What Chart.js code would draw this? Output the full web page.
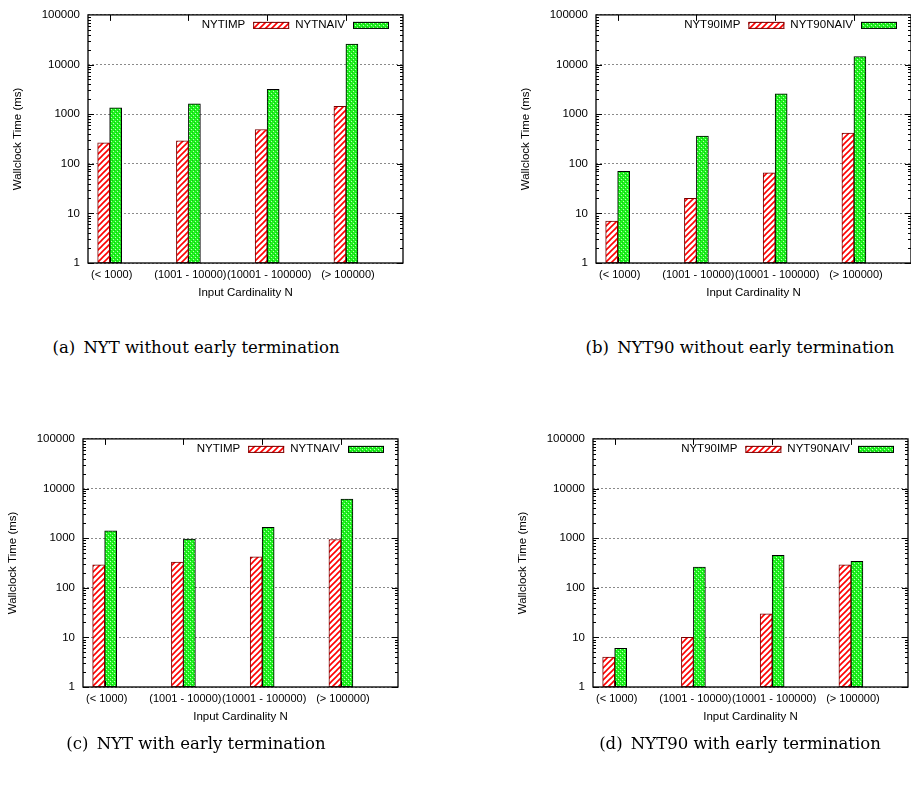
<!DOCTYPE html>
<html>
<head>
<meta charset="utf-8">
<script src="https://cdn.jsdelivr.net/npm/chart.js@4.4.1/dist/chart.umd.min.js"></script>
<style>
  html, body { margin: 0; padding: 0; background: #fff; }
  body { width: 911px; height: 791px; position: relative; overflow: hidden; }
  canvas { position: absolute; }
  .cap { position: absolute; font-family: "DejaVu Serif", serif; font-size: 16.5px; line-height: 20px;
         white-space: nowrap; transform: translateX(-50%); color: #000; }
</style>
</head>
<body>
<canvas id="c0" width="453" height="320" style="left:0px;top:0px"></canvas>
<canvas id="c1" width="453" height="320" style="left:508px;top:0px"></canvas>
<canvas id="c2" width="453" height="320" style="left:-5px;top:424px"></canvas>
<canvas id="c3" width="453" height="320" style="left:505px;top:424px"></canvas>
<div class="cap" id="cap0" style="left:196px;top:338px"></div>
<div class="cap" id="cap1" style="left:740px;top:338px"></div>
<div class="cap" id="cap2" style="left:196px;top:734px"></div>
<div class="cap" id="cap3" style="left:740px;top:734px"></div>
<script>
// ---------------- data ----------------
const categories = ['(< 1000)', '(1001 - 10000)', '(10001 - 100000)', '(> 100000)'];
const yTicks = [1, 10, 100, 1000, 10000, 100000];
const xTitle = 'Input Cardinality N';
const yTitle = 'Wallclock Time (ms)';

const nytImpNoET    = [265, 290, 490, 1440];
const nytNaivNoET   = [1340, 1610, 3160, 25800];
const nyt90ImpNoET  = [7, 20, 66, 414];
const nyt90NaivNoET = [70, 360, 2560, 14400];
const nytImpET      = [290, 330, 420, 940];
const nytNaivET     = [1400, 960, 1660, 6100];
const nyt90ImpET    = [4, 10, 30, 290];
const nyt90NaivET   = [6, 260, 450, 340];

const seriesLabelsNYT = ['NYTIMP', 'NYTNAIV'];
const seriesLabelsNYT90 = ['NYT90IMP', 'NYT90NAIV'];
const captions = [
  '(a)\u2002NYT without early termination',
  '(b)\u2002NYT90 without early termination',
  '(c)\u2002NYT with early termination',
  '(d)\u2002NYT90 with early termination'
];

// ---------------- patterns ----------------
function hatchPattern() {
  const c = document.createElement('canvas'); c.width = 6; c.height = 6;
  const g = c.getContext('2d');
  g.fillStyle = '#ffffff'; g.fillRect(0, 0, 6, 6);
  g.strokeStyle = '#ff0000'; g.lineWidth = 1.6;
  g.beginPath();
  g.moveTo(-1, 7); g.lineTo(7, -1);
  g.moveTo(-1, 1); g.lineTo(1, -1);
  g.moveTo(5, 7); g.lineTo(7, 5);
  g.stroke();
  return g.createPattern(c, 'repeat');
}
function crossPattern() {
  const c = document.createElement('canvas'); c.width = 4; c.height = 4;
  const g = c.getContext('2d');
  g.fillStyle = '#1ef51e'; g.fillRect(0, 0, 4, 4);
  g.fillStyle = '#18b818';
  g.fillRect(0, 0, 1, 1); g.fillRect(2, 2, 1, 1);
  g.fillStyle = '#b8ffb8';
  g.fillRect(1, 3, 1, 1); g.fillRect(3, 1, 1, 1);
  return g.createPattern(c, 'repeat');
}
const RED_FILL = hatchPattern();
const GREEN_FILL = crossPattern();
const RED_BORDER = '#7a0000';
const GREEN_BORDER = '#000000';

const FONT = { family: '"Liberation Sans", Arial, sans-serif', size: 11.5 };
const XTICK_FONT = { family: '"Liberation Sans", Arial, sans-serif', size: 11 };

// ---------------- frame / ticks / key plugin ----------------
const framePlugin = {
  id: 'gnuframe',
  afterDatasetsDraw(chart) {
    const { ctx, chartArea: a, scales } = chart;
    const xs = scales.x, ys = scales.y;
    ctx.save();
    ctx.strokeStyle = '#000';
    ctx.lineWidth = 1;
    ctx.beginPath();
    for (let k = 0; k < yTicks.length - 1; k++) {
      for (let m = 1; m <= 9; m++) {
        const v = yTicks[k] * m;
        const py = Math.round(ys.getPixelForValue(v)) + 0.5;
        const len = m === 1 ? 6 : 3;
        ctx.moveTo(a.left, py); ctx.lineTo(a.left + len, py);
        ctx.moveTo(a.right, py); ctx.lineTo(a.right - len, py);
      }
    }
    categories.forEach((c, i) => {
      const px = Math.round(xs.getPixelForValue(i)) + 0.5;
      ctx.moveTo(px, a.top); ctx.lineTo(px, a.top + 6);
      ctx.moveTo(px, a.bottom); ctx.lineTo(px, a.bottom - 6);
    });
    ctx.stroke();
    ctx.lineWidth = 1.3;
    ctx.strokeRect(a.left, a.top, a.right - a.left, a.bottom - a.top);

    // key: text then sample, top-right inside the plot
    const ds = chart.data.datasets;
    ctx.font = FONT.size + 'px ' + FONT.family;
    let maxW = 0;
    ds.forEach(d => { maxW = Math.max(maxW, ctx.measureText(d.label).width); });
    const entryW = maxW + 50;
    const cy = a.top + 10;
    ctx.textAlign = 'right';
    ctx.textBaseline = 'middle';
    ds.forEach((d, k) => {
      const boxR = a.right - 14 - (ds.length - 1 - k) * entryW;
      const boxL = boxR - 36;
      ctx.fillStyle = '#000';
      ctx.fillText(d.label, boxL - 8, cy);
      ctx.fillStyle = d.backgroundColor;
      ctx.fillRect(boxL, cy - 3, 36, 7);
      ctx.strokeStyle = d.borderColor;
      ctx.lineWidth = 1;
      ctx.strokeRect(boxL + 0.5, cy - 2.5, 35, 6);
    });
    ctx.restore();
  }
};

function makeChart(id, labels, imp, naiv) {
  const ctx = document.getElementById(id).getContext('2d');
  const mk = vals => categories.map((c, i) => ({ x: i, y: vals[i] }));
  return new Chart(ctx, {
    type: 'bar',
    data: {
      datasets: [
        { label: labels[0], data: mk(imp), backgroundColor: RED_FILL, borderColor: RED_BORDER,
          borderWidth: 1, borderSkipped: false, barThickness: 12 },
        { label: labels[1], data: mk(naiv), backgroundColor: GREEN_FILL, borderColor: GREEN_BORDER,
          borderWidth: 1, borderSkipped: false, barThickness: 12 }
      ]
    },
    options: {
      responsive: false,
      animation: false,
      devicePixelRatio: 1,
      layout: { padding: { left: 0, right: 50, top: 14, bottom: 17 } },
      plugins: { legend: { display: false }, tooltip: { enabled: false } },
      scales: {
        x: {
          type: 'linear',
          min: -0.275, max: 3.725,
          offset: false,
          afterBuildTicks: s => { s.ticks = categories.map((c, i) => ({ value: i })); },
          afterFit: s => { s.height = 40; },
          grid: { display: false, drawTicks: false, offset: false },
          border: { display: false },
          ticks: {
            autoSkip: false, maxRotation: 0, minRotation: 0, padding: 5, labelOffset: 2,
            color: '#000', font: XTICK_FONT,
            callback: v => categories[Math.round(v)]
          },
          title: { display: true, text: xTitle, color: '#000', font: FONT, padding: { top: 0, bottom: 3 } }
        },
        y: {
          type: 'logarithmic',
          min: 1, max: 100000,
          afterBuildTicks: s => { s.ticks = yTicks.map(v => ({ value: v })); },
          afterFit: s => { s.width = 88; },
          grid: { display: true, drawTicks: false, color: '#8a8a8a', lineWidth: 1 },
          border: { display: false, dash: [2, 2] },
          ticks: { autoSkip: false, padding: 8, color: '#000', font: FONT, callback: v => String(v) },
          title: { display: true, text: yTitle, color: '#000', font: FONT, padding: { top: 11, bottom: 0 } }
        }
      }
    },
    plugins: [framePlugin]
  });
}

makeChart('c0', seriesLabelsNYT, nytImpNoET, nytNaivNoET);
makeChart('c1', seriesLabelsNYT90, nyt90ImpNoET, nyt90NaivNoET);
makeChart('c2', seriesLabelsNYT, nytImpET, nytNaivET);
makeChart('c3', seriesLabelsNYT90, nyt90ImpET, nyt90NaivET);
captions.forEach((t, i) => { document.getElementById('cap' + i).textContent = t; });
</script>
</body>
</html>
